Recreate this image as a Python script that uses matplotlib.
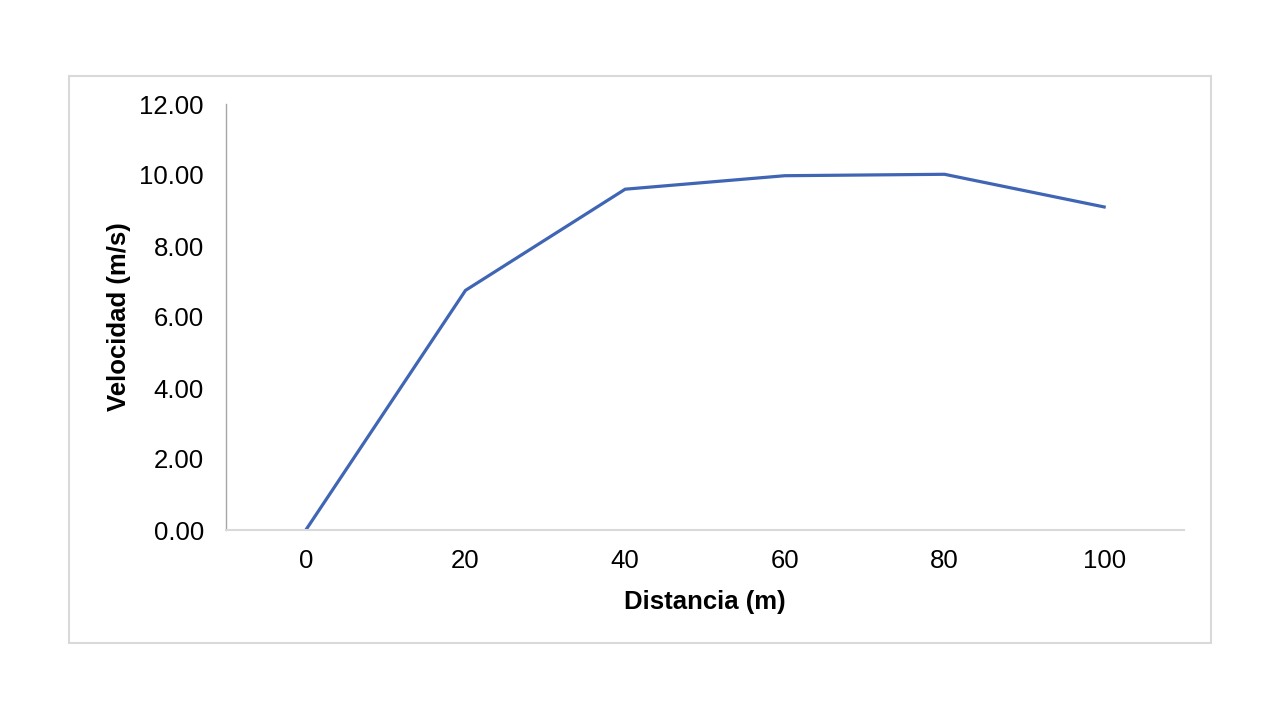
import matplotlib
matplotlib.use("Agg")
import matplotlib.pyplot as plt
from matplotlib.patches import Rectangle

plt.rcParams['font.family'] = ['Liberation Sans', 'DejaVu Sans']

distancias = ["0", "20", "40", "60", "80", "100"]
velocidades = [0.0, 6.75, 9.60, 9.98, 10.02, 9.10]
y_ticks = [0, 2, 4, 6, 8, 10, 12]

fig = plt.figure(figsize=(12.8, 7.2), dpi=100)
fig.patch.set_facecolor('white')

# outer chart border
fig.patches.append(Rectangle((69/1280, 1-643/720), (1211-69)/1280, (643-76)/720,
                             transform=fig.transFigure, fill=False,
                             edgecolor='#d9d9d9', linewidth=1.5))

ax = fig.add_axes([226/1280, 1-530/720, (1184-226)/1280, (530-104)/720])
x = list(range(len(distancias)))
ax.plot(x, velocidades, color='#3F65B4', linewidth=2.3, solid_joinstyle='miter')
ax.set_xlim(-0.5, len(distancias)-0.5)
ax.set_ylim(0, 12)
ax.set_xticks(x)
ax.set_xticklabels(distancias)
ax.set_yticks(y_ticks)
ax.set_yticklabels([f"{v:.2f}" for v in y_ticks])
ax.tick_params(axis='both', length=0, labelsize=18.5, colors='black')
ax.tick_params(axis='y', pad=16)
ax.tick_params(axis='x', pad=14)
for s in ['top', 'right']:
    ax.spines[s].set_visible(False)
ax.spines['left'].set_color('#a6a6a6')
ax.spines['left'].set_linewidth(1.0)
ax.spines['bottom'].set_color('#d9d9d9')
ax.spines['bottom'].set_linewidth(1.5)
ax.set_xlabel("Distancia (m)", fontsize=18.5, fontweight='bold', labelpad=12)
ax.set_ylabel("Velocidad (m/s)", fontsize=18.5, fontweight='bold', labelpad=6)

fig.savefig("out.png", dpi=100)
